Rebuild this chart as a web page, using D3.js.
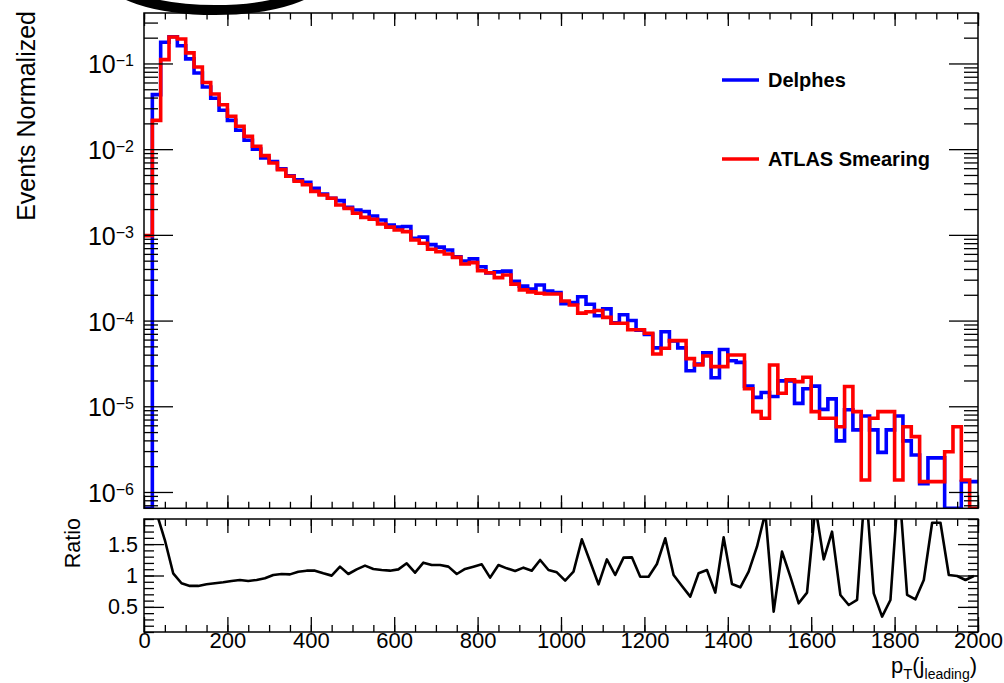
<!DOCTYPE html>
<html><head><meta charset="utf-8">
<script src="https://cdn.jsdelivr.net/npm/d3@7"></script>
<style>
html,body{margin:0;padding:0;background:#fff;}
svg{display:block;font-family:"Liberation Sans",Arial,Helvetica,sans-serif;}
</style></head><body>
<svg id="chart" width="1004" height="683"></svg>
<script>
// ---------------- data ----------------
const binEdges = d3.range(0, 2001, 20); // 100 bins of 20 GeV
const delphes = [
 0, 0.0433, 0.177, 0.205, 0.161, 0.113, 0.0775, 0.0532, 0.0393, 0.0284,
 0.0217, 0.0166, 0.0127, 0.0100, 0.0079, 0.00715, 0.0059, 0.0049, 0.0044, 0.0041,
 0.0035, 0.0030, 0.00268, 0.00251, 0.0021, 0.00195, 0.00187, 0.00166, 0.00149, 0.0013,
 0.00123, 0.00125, 0.00091, 0.00094, 0.00077, 0.00072, 0.000665, 0.000556, 0.000495, 0.000525,
 0.000425, 0.00036, 0.00037, 0.000378, 0.000288, 0.000252, 0.000233, 0.00026, 0.000221, 0.000213,
 0.000157, 0.000162, 0.00019, 0.000155, 0.000114, 0.000137, 9.4e-5, 0.000117, 0.0001, 7.7e-5,
 6.9e-5, 4.8e-5, 7.4e-5, 5.8e-5, 4.8e-5, 2.6e-5, 3.1e-5, 4.2e-5, 2.15e-5, 4.6e-5,
 3.4e-5, 3.25e-5, 1.72e-5, 1.27e-5, 1.45e-5, 1.3e-5, 1.98e-5, 1.98e-5, 1.08e-5, 1.6e-5,
 1.72e-5, 9.2e-6, 1.22e-5, 3.95e-6, 9.1e-6, 5.3e-6, 7.7e-6, 5.3e-6, 2.9e-6, 5.3e-6,
 7.7e-6, 3.95e-6, 2.7e-6, 1.25e-6, 2.5e-6, 2.5e-6, 0, 0, 1.32e-6, 1.32e-6
];
const atlasSmearing = [
 9.8e-4, 0.0217, 0.111, 0.204, 0.193, 0.133, 0.091, 0.060, 0.044, 0.033,
 0.0242, 0.0185, 0.0141, 0.0108, 0.0084, 0.0069, 0.00577, 0.00483, 0.00422, 0.00385,
 0.00322, 0.00292, 0.00267, 0.00223, 0.00204, 0.00179, 0.0016, 0.00152, 0.00134, 0.00123,
 0.00114, 0.00109, 0.00087, 0.0008, 0.00068, 0.000637, 0.000598, 0.000547, 0.000457, 0.000474,
 0.000382, 0.000362, 0.000317, 0.00034, 0.000266, 0.000228, 0.000216, 0.000208, 0.000204, 0.000204,
 0.000169, 0.000152, 0.000122, 0.000127, 0.000131, 0.000109, 9.3e-5, 9.3e-5, 7.8e-5, 7.8e-5,
 7.1e-5, 4.07e-5, 4.75e-5, 5.83e-5, 5.83e-5, 3.6e-5, 3.03e-5, 3.86e-5, 2.9e-5, 2.9e-5,
 3.97e-5, 3.97e-5, 1.6e-5, 8.65e-6, 7.24e-6, 3.03e-5, 1.42e-5, 2.03e-5, 1.94e-5, 2.18e-5,
 8.65e-6, 7.24e-6, 7.24e-6, 5.78e-6, 1.7e-5, 8.65e-6, 1.38e-6, 7.24e-6, 8.65e-6, 8.65e-6,
 1.38e-6, 5.78e-6, 4.42e-6, 1.32e-6, 1.32e-6, 1.32e-6, 2.95e-6, 5.78e-6, 1.38e-6, 0
];
const ratioValues = [
 null, 2.0, 1.565, 1.035, 0.876, 0.834, 0.834, 0.86, 0.876, 0.892,
 0.913, 0.929, 0.913, 0.929, 0.955, 1.008, 1.024, 1.018, 1.061, 1.077,
 1.077, 1.035, 0.998, 1.141, 1.024, 1.098, 1.157, 1.104, 1.088, 1.077,
 1.098, 1.194, 1.045, 1.205, 1.167, 1.167, 1.141, 1.024, 1.104, 1.141,
 1.178, 0.966, 1.167, 1.114, 1.072, 1.125, 1.077, 1.247, 1.088, 1.05,
 0.918, 1.061, 1.576, 1.22, 0.859, 1.257, 1.008, 1.284, 1.289, 0.981,
 0.981, 1.183, 1.592, 1.008, 0.833, 0.663, 1.035, 1.088, 0.727, 1.608,
 0.865, 0.812, 1.061, 1.459, 2.0, 0.424, 1.38, 0.981, 0.557, 0.727,
 2.1, 1.257, 1.698, 0.69, 0.53, 0.61, 2.5, 0.716, 0.345, 0.61,
 2.5, 0.69, 0.62, 0.928, 1.84, 1.84, 1.008, 0.992, 0.928, 0.992
];
const xMajorTicks = [0, 200, 400, 600, 800, 1000, 1200, 1400, 1600, 1800, 2000];
const xMinorTicks = d3.range(0, 2001, 50);
const logExponents = [-6, -5, -4, -3, -2, -1];
const ratioMajorTicks = [0.5, 1, 1.5];
const ratioMinorTicks = d3.range(1, 20).map(d => d / 10);
const seriesNames = ["Delphes", "ATLAS Smearing"];
const seriesColors = ["#0000ff", "#ff0000"];

// ---------------- layout ----------------
const svg = d3.select("#chart");
const L = 144, R = 978;
const topPad = {t: 13, b: 508.3};
const ratPad = {t: 519, b: 632};
const FONT = '"Liberation Sans",Arial,Helvetica,sans-serif';

const x = d3.scaleLinear().domain([0, 2000]).range([L, R]);
const y = d3.scaleLog().domain([6.45e-7, 0.388]).range([topPad.b, topPad.t]);
const yr = d3.scaleLinear().domain([0.1, 1.9]).range([ratPad.b, ratPad.t]);

const defs = svg.append("defs");
defs.append("clipPath").attr("id", "clipTop").append("rect")
  .attr("x", L).attr("y", topPad.t).attr("width", R - L).attr("height", topPad.b - topPad.t);
defs.append("clipPath").attr("id", "clipRat").append("rect")
  .attr("x", L).attr("y", ratPad.t).attr("width", R - L).attr("height", ratPad.b - ratPad.t);

// log ticks
const [yLo, yHi] = y.domain();
const logMinor = [];
for (let e = -7; e <= 0; e++) for (let m = 2; m <= 9; m++) {
  const v = m * Math.pow(10, e);
  if (v >= yLo && v <= yHi) logMinor.push(v);
}
const logMajor = logExponents.map(e => Math.pow(10, e));

// ---------------- histograms ----------------
function stepPath(vals) {
  const p = d3.path();
  vals.forEach((v, i) => {
    const yy = v > 0 ? y(v) : y.range()[0];
    const x0 = x(binEdges[i]), x1 = x(binEdges[i + 1]);
    if (i === 0) p.moveTo(x0, yy); else p.lineTo(x0, yy);
    p.lineTo(x1, yy);
  });
  return p.toString();
}
const histG = svg.append("g").attr("clip-path", "url(#clipTop)");
[delphes, atlasSmearing].forEach((vals, k) => {
  histG.append("path").attr("d", stepPath(vals))
    .attr("fill", "none").attr("stroke", seriesColors[k])
    .attr("stroke-width", 3.6).attr("stroke-linejoin", "miter");
});

// ---------------- ratio line ----------------
const centers = binEdges.slice(0, -1).map((e, i) => (e + binEdges[i + 1]) / 2);
const ratioLine = d3.line()
  .defined(d => d[1] != null)
  .x(d => x(d[0])).y(d => yr(d[1]));
svg.append("g").attr("clip-path", "url(#clipRat)")
  .append("path").attr("d", ratioLine(centers.map((c, i) => [c, ratioValues[i]])))
  .attr("fill", "none").attr("stroke", "#000").attr("stroke-width", 2.6)
  .attr("stroke-linejoin", "round");

// ---------------- axes ----------------
function styleAxis(g) {
  g.select(".domain").remove();
  g.selectAll(".tick line").attr("stroke", "#000").attr("stroke-width", 1.3);
  g.selectAll(".tick text").attr("fill", "#000");
  g.attr("font-family", FONT);
}
function addAxis(axis, tx, ty) {
  return svg.append("g").attr("transform", `translate(${tx},${ty})`).call(axis).call(styleAxis);
}
// upper pad
addAxis(d3.axisBottom(x).tickValues(xMajorTicks).tickSize(-13).tickFormat(""), 0, topPad.b);
addAxis(d3.axisBottom(x).tickValues(xMinorTicks).tickSize(-6.5).tickFormat(""), 0, topPad.b);
addAxis(d3.axisTop(x).tickValues(xMajorTicks).tickSize(-13).tickFormat(""), 0, topPad.t);
addAxis(d3.axisTop(x).tickValues(xMinorTicks).tickSize(-6.5).tickFormat(""), 0, topPad.t);
const yLeftMaj = addAxis(d3.axisLeft(y).tickValues(logMajor).tickSize(-29).tickFormat(""), L, 0);
addAxis(d3.axisLeft(y).tickValues(logMinor).tickSize(-14).tickFormat(""), L, 0);
addAxis(d3.axisRight(y).tickValues(logMajor).tickSize(-29).tickFormat(""), R, 0);
addAxis(d3.axisRight(y).tickValues(logMinor).tickSize(-14).tickFormat(""), R, 0);
// log labels 10^n
yLeftMaj.selectAll(".tick").each(function(d) {
  const t = d3.select(this).append("text")
    .attr("x", -10).attr("y", 9.5).attr("text-anchor", "end").attr("fill", "#000");
  t.append("tspan").attr("font-size", 25).text("10");
  t.append("tspan").attr("font-size", 16).attr("dy", -7)
    .text("\u2212" + Math.abs(Math.round(Math.log10(d))));
});

// ratio pad
const xr = addAxis(d3.axisBottom(x).tickValues(xMajorTicks).tickSize(-15).tickPadding(0.5)
  .tickFormat(d3.format("d")), 0, ratPad.b);
xr.selectAll(".tick text").attr("font-size", 22);
addAxis(d3.axisBottom(x).tickValues(xMinorTicks).tickSize(-7).tickFormat(""), 0, ratPad.b);
addAxis(d3.axisTop(x).tickValues(xMajorTicks).tickSize(-14).tickFormat(""), 0, ratPad.t);
addAxis(d3.axisTop(x).tickValues(xMinorTicks).tickSize(-7).tickFormat(""), 0, ratPad.t);
const yrl = addAxis(d3.axisLeft(yr).tickValues(ratioMajorTicks).tickSize(-20).tickPadding(6)
  .tickFormat(d => String(d)), L, 0);
yrl.selectAll(".tick text").attr("font-size", 21.5);
addAxis(d3.axisLeft(yr).tickValues(ratioMinorTicks).tickSize(-10).tickFormat(""), L, 0);
addAxis(d3.axisRight(yr).tickValues(ratioMajorTicks).tickSize(-20).tickFormat(""), R, 0);
addAxis(d3.axisRight(yr).tickValues(ratioMinorTicks).tickSize(-10).tickFormat(""), R, 0);

// frames
[[topPad.t, topPad.b], [ratPad.t, ratPad.b]].forEach(([t, b]) => {
  svg.append("rect").attr("x", L).attr("y", t).attr("width", R - L).attr("height", b - t)
    .attr("fill", "none").attr("stroke", "#000").attr("stroke-width", 1.5);
});

// titles
svg.append("text").attr("transform", "translate(35,11) rotate(-90)")
  .attr("text-anchor", "end").attr("font-size", 25).attr("fill", "#000")
  .text("Events Normalized");
svg.append("text").attr("transform", `translate(80,${ratPad.t - 1}) rotate(-90)`)
  .attr("text-anchor", "end").attr("font-size", 21.5).attr("fill", "#000")
  .text("Ratio");
const xt = svg.append("text").attr("x", 977).attr("y", 673).attr("text-anchor", "end")
  .attr("font-size", 22).attr("fill", "#000");
xt.append("tspan").text("p");
xt.append("tspan").attr("font-size", 15).attr("dy", 6).text("T");
xt.append("tspan").attr("dy", -6).text("(j");
xt.append("tspan").attr("font-size", 14).attr("dy", 6).text("leading");
xt.append("tspan").attr("dy", -6).text(")");

// legend
const legY = [80, 159];
seriesNames.forEach((name, k) => {
  svg.append("line").attr("x1", 722).attr("x2", 759).attr("y1", legY[k]).attr("y2", legY[k])
    .attr("stroke", seriesColors[k]).attr("stroke-width", 3.6);
  svg.append("text").attr("x", 768).attr("y", legY[k] + 6.5)
    .attr("font-size", 20).attr("font-weight", "bold").attr("fill", "#000").text(name);
});

// black arc at the top-left (scan artefact)
svg.append("ellipse").attr("cx", 215).attr("cy", -26).attr("rx", 108).attr("ry", 36)
  .attr("fill", "none").attr("stroke", "#000").attr("stroke-width", 10);
</script>
</body></html>
